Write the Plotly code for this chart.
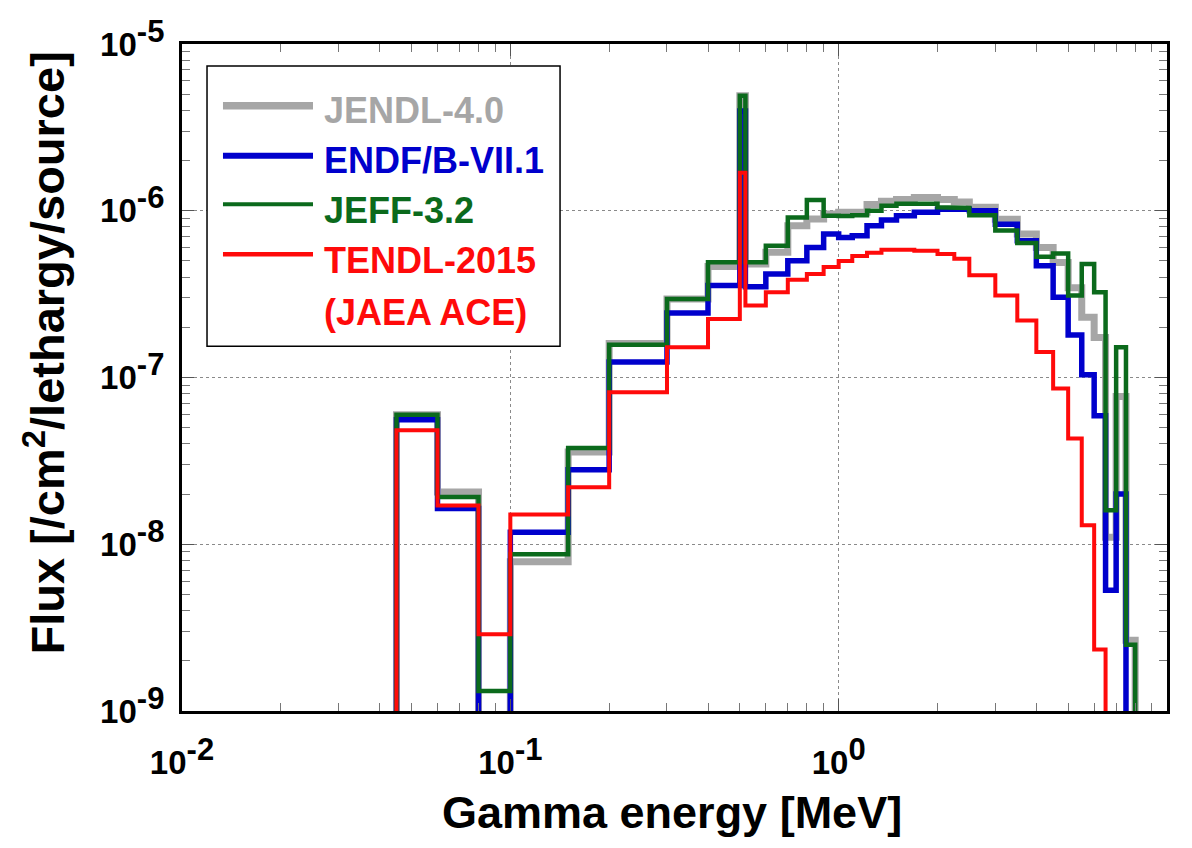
import plotly.graph_objects as go

# ---------------- data ----------------
# group boundaries [MeV]
edges = [0.045, 0.06, 0.08, 0.1, 0.15, 0.2, 0.3, 0.4, 0.5, 0.52, 0.6, 0.7, 0.8, 0.9,
         1.0, 1.1, 1.22, 1.35, 1.5, 1.7, 2.0, 2.25, 2.5, 3.0, 3.5, 4.0, 4.5, 5.0,
         5.5, 6.0, 6.5, 7.0, 7.5, 8.0]

# flux per group (None = below the plotted range)
jendl40 = [5.98e-8, 2.06e-8, None, 7.84e-9, 3.57e-8, 1.60e-7, 2.96e-7, 4.63e-7, 4.9e-6,
           4.8e-7, 5.63e-7, 8.13e-7, 8.92e-7, 9.55e-7, 9.8e-7, 9.8e-7, 1.09e-6, 1.14e-6,
           1.17e-6, 1.2e-6, 1.17e-6, 1.13e-6, 1.05e-6, 8.9e-7, 7.25e-7, 6.03e-7, 4.9e-7,
           3.45e-7, 2.3e-7, 1.74e-7, 1.1e-8, 7.7e-8, 2.66e-9]
endfb71 = [5.58e-8, 1.64e-8, None, 1.18e-8, 2.8e-8, 1.24e-7, 2.44e-7, 3.56e-7, 3.97e-6,
           3.5e-7, 4.17e-7, 5.02e-7, 6.03e-7, 7.25e-7, 6.92e-7, 7.08e-7, 8.13e-7, 8.8e-7,
           9.33e-7, 9.8e-7, 1.02e-6, 1.02e-6, 1.0e-6, 8.3e-7, 6.6e-7, 4.68e-7, 3.03e-7,
           1.8e-7, 1.04e-7, 5.9e-8, 5.3e-9, 2.0e-8, None]
jeff32 = [5.98e-8, 1.92e-8, 1.32e-9, 8.7e-9, 3.78e-8, 1.57e-7, 2.96e-7, 4.91e-7, 4.89e-6,
          4.91e-7, 6.17e-7, 9.12e-7, 1.16e-6, 9.33e-7, 9.3e-7, 9.4e-7, 1.0e-6, 1.07e-6,
          1.1e-6, 1.1e-6, 1.05e-6, 1.04e-6, 9.4e-7, 7.6e-7, 6.4e-7, 5.3e-7, 5.55e-7,
          3.1e-7, 4.8e-7, 3.24e-7, 1.6e-8, 1.52e-7, 2.5e-9]
tendl2015 = [4.82e-8, 1.71e-8, 2.89e-9, 1.51e-8, 2.2e-8, 8.17e-8, 1.52e-7, 2.24e-7, 1.69e-6,
             2.7e-7, 3.24e-7, 3.85e-7, 4.17e-7, 4.6e-7, 5.0e-7, 5.35e-7, 5.6e-7, 5.84e-7,
             5.84e-7, 5.75e-7, 5.5e-7, 5.15e-7, 4.1e-7, 3.1e-7, 2.2e-7, 1.42e-7, 8.6e-8,
             4.3e-8, 1.3e-8, 2.34e-9, None, None, None]

series_names = ["JENDL-4.0", "ENDF/B-VII.1", "JEFF-3.2", "TENDL-2015 (JAEA ACE)"]
series_values = [jendl40, endfb71, jeff32, tendl2015]
series_colors = ["#a6a6a6", "#0000cc", "#0b6a1c", "#ff0a0a"]
series_widths = [7, 5.5, 4.5, 4]

legend_lines = ["JENDL-4.0", "ENDF/B-VII.1", "JEFF-3.2", "TENDL-2015", "(JAEA ACE)"]
legend_line_color = [0, 1, 2, 3, 3]

x_tickvals = [0.01, 0.1, 1, 10]
x_tickexp = ["-2", "-1", "0", "1"]
y_tickvals = [1e-9, 1e-8, 1e-7, 1e-6, 1e-5]
y_tickexp = ["-9", "-8", "-7", "-6", "-5"]

FLOOR = 1e-14  # stands in for values below the axis range
FONT = "Liberation Sans, Arial, sans-serif"
SUP = "<sup><span style='font-size:31px'>{}</span></sup>"


def step_xy(e, vals):
    xs, ys = [e[0]], [FLOOR]
    for i, v in enumerate(vals):
        vv = FLOOR if v is None else v
        xs += [e[i], e[i + 1]]
        ys += [vv, vv]
    xs.append(e[-1])
    ys.append(FLOOR)
    return xs, ys


def minor_vals(lo_exp, hi_exp):
    out = []
    for p in range(lo_exp, hi_exp):
        for m in range(2, 10):
            out.append(m * 10.0 ** p)
    return out


fig = go.Figure()
for name, vals, col, w in zip(series_names, series_values, series_colors, series_widths):
    xs, ys = step_xy(edges, vals)
    fig.add_trace(go.Scatter(x=xs, y=ys, mode="lines", name=name,
                             line=dict(color=col, width=w), showlegend=False))

axis_common = dict(
    type="log", showline=True, linecolor="black", linewidth=3, mirror="allticks",
    ticks="inside", ticklen=12, tickwidth=1, tickcolor="#555555",
    showgrid=True, gridcolor="#8a8a8a", gridwidth=1, griddash="dot",
    zeroline=False,
    tickfont=dict(family=FONT, size=33, color="black", weight="bold"),
)

fig.update_xaxes(range=[-2, 1], tickvals=x_tickvals,
                 ticktext=["10" + SUP.format(e) for e in x_tickexp],
                 ticklabelstandoff=20,
                 minor=dict(tickvals=minor_vals(-2, 1), ticks="inside", ticklen=8,
                            tickwidth=1, tickcolor="#777777", showgrid=False),
                 **axis_common)
fig.update_yaxes(range=[-9, -5], tickvals=y_tickvals,
                 ticktext=["10" + SUP.format(e) for e in y_tickexp],
                 ticklabelstandoff=8,
                 minor=dict(tickvals=minor_vals(-9, -5), ticks="inside", ticklen=8,
                            tickwidth=1, tickcolor="#777777", showgrid=False),
                 **axis_common)

# axis titles
fig.add_annotation(text="Gamma energy [MeV]", xref="paper", yref="paper",
                   x=0.4975, y=-0.152, xanchor="center", yanchor="middle", showarrow=False,
                   font=dict(family=FONT, size=45, color="black", weight="bold"))
fig.add_annotation(text="Flux [/cm<sup>2</sup>/lethargy/source]", xref="paper", yref="paper",
                   x=-0.139, y=0.536, xanchor="center", yanchor="middle", showarrow=False,
                   textangle=-90,
                   font=dict(family=FONT, size=47, color="black", weight="bold"))

# legend box
fig.add_shape(type="rect", xref="paper", yref="paper", x0=0.0254, x1=0.3838,
              y0=0.547, y1=0.967, line=dict(color="black", width=1.5),
              fillcolor="white", layer="above")
leg_line_y = [0.9075, 0.8325, 0.7597, 0.6847]
leg_line_w = [7.5, 6, 4, 4.5]
leg_text_y = [0.9003, 0.8246, 0.7504, 0.6754, 0.5982]
for i in range(4):
    fig.add_shape(type="line", xref="paper", yref="paper", x0=0.0416, x1=0.133,
                  y0=leg_line_y[i], y1=leg_line_y[i],
                  line=dict(color=series_colors[i], width=leg_line_w[i]), layer="above")
for txt, ci, ty in zip(legend_lines, legend_line_color, leg_text_y):
    fig.add_annotation(text=txt, xref="paper", yref="paper", x=0.1417, y=ty,
                       xanchor="left", yanchor="middle", showarrow=False, align="left",
                       font=dict(family=FONT, size=36, color=series_colors[ci], weight="bold"))

fig.update_layout(
    width=1192, height=848,
    margin=dict(l=182, r=25, t=44, b=137),
    paper_bgcolor="white", plot_bgcolor="white",
    showlegend=False,
)

fig.write_html("out.html")
